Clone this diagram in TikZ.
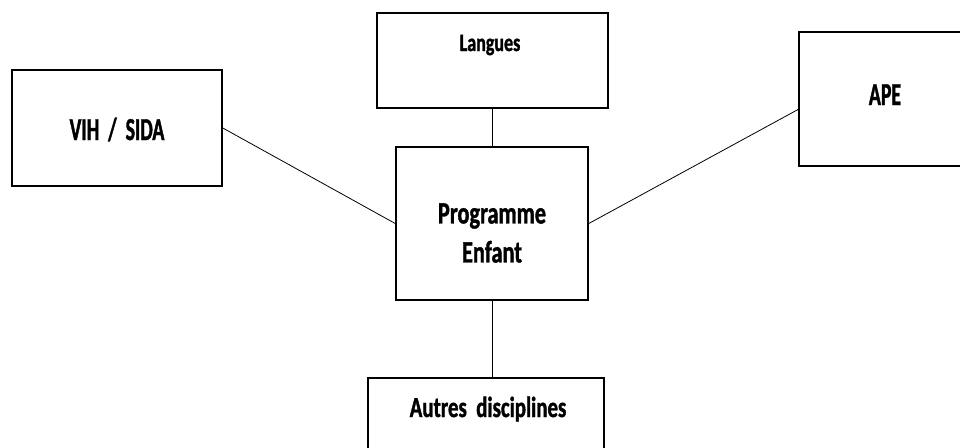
\documentclass[tikz,border=0pt]{standalone}
\usepackage{fontspec}
\newfontfamily\gillnorm{Carlito}[FakeStretch=0.72, FakeBold=1.2]
\newfontfamily\gillcond{Carlito}[FakeStretch=0.62, FakeBold=1.2]
\usetikzlibrary{positioning}
\tikzset{
    bloc/.style={rectangle, draw=black, line width=1.6pt, inner sep=0pt},
    titre/.style={inner sep=0pt, align=center},
    titre cond/.style={font=\gillcond\bfseries\fontsize{32}{36}\selectfont, inner sep=0pt}
}

\begin{document}
\begin{tikzpicture}[
            x = 1pt, y = -1pt, % one unit per pixel, y going down
            lien/.style = {line width=0.8pt} % plain connecting line
        ]

        \useasboundingbox (0,0) rectangle (960,447);
        \clip (0,0) rectangle (960,447);

        % the boxes
        \node[bloc, minimum width=192pt, minimum height=153pt] (prog) at (492,223.5) {};
        \node[bloc, minimum width=231pt, minimum height=95pt] (langues) at (492.5,60.5) {};
        \node[bloc, minimum width=210pt, minimum height=116pt] (vih) at (117,128) {};
        \node[bloc, minimum width=168pt, minimum height=134pt] (ape) at (883,99) {};
        \node[bloc, minimum width=236pt, minimum height=92pt] (autres) at (486,424) {};

        % their texts
        \node[titre, font=\gillnorm\bfseries\fontsize{31}{39}\selectfont] (prog-t) at (492,233) {Programme\\Enfant};
        \node[titre, font=\gillnorm\bfseries\fontsize{25}{29}\selectfont, anchor=base] (langues-t) at (490,51) {Langues};
        \node[titre cond, anchor=base] (vih-t) at (117,140) {VIH \ / \ SIDA};
        \node[titre cond, anchor=base] (ape-t) at (885,105) {APE};
        \node[titre, font=\gillnorm\bfseries\fontsize{29}{33}\selectfont, anchor=base] (autres-t) at (488,417) {Autres \ disciplines};

        % the links
        \draw[lien] (langues.south -| prog.north) -- (prog.north);
        \draw[lien] (prog.south) -- (prog.south |- autres.north);
        \draw[lien] (vih.east) -- (prog.west);
        \draw[lien] (prog.east) -- (ape.187);

\end{tikzpicture}
\end{document}
